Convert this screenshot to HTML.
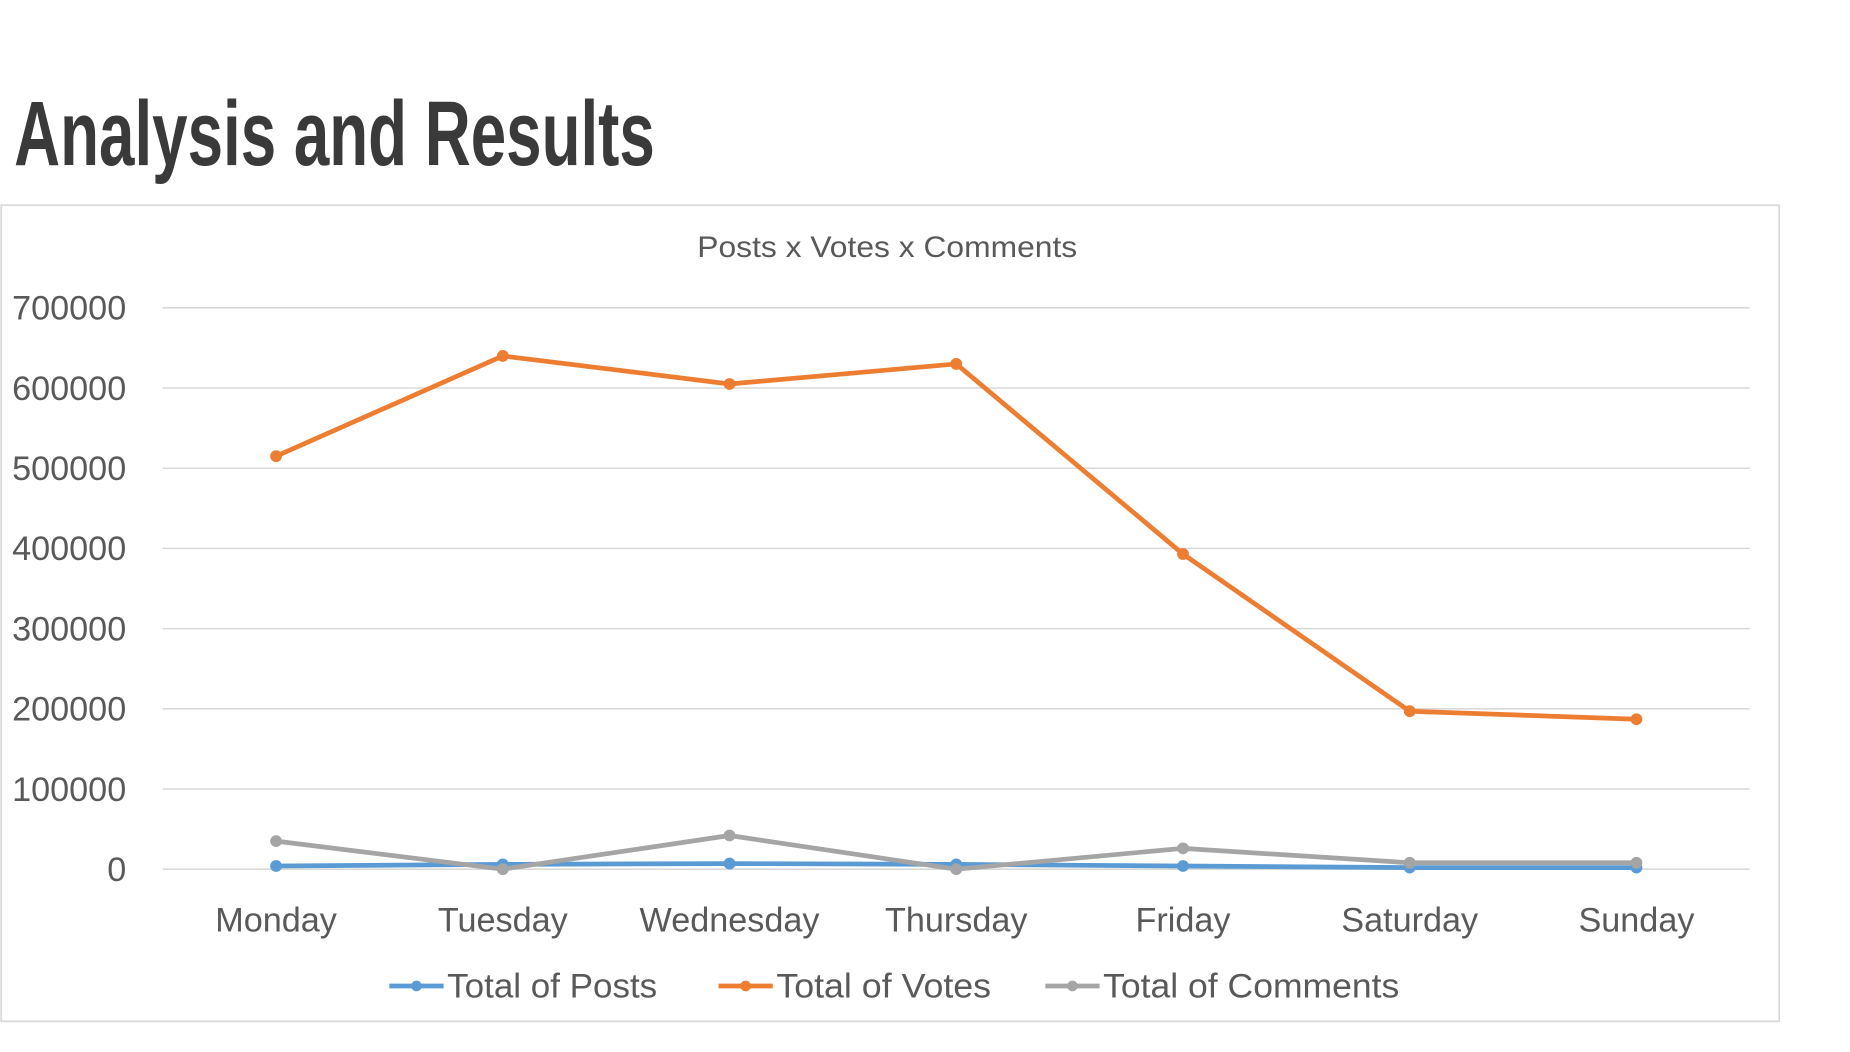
<!DOCTYPE html>
<html><head><meta charset="utf-8"><style>html,body{margin:0;padding:0;background:#fff;}svg{display:block;}</style></head>
<body>
<svg width="1850" height="1052" viewBox="0 0 1568 892" preserveAspectRatio="none" xmlns="http://www.w3.org/2000/svg" font-family="Liberation Sans, sans-serif">
<text x="12" y="140" font-size="78" font-weight="bold" fill="#3a3a3a" textLength="543" lengthAdjust="spacingAndGlyphs">Analysis and Results</text>
<rect x="1" y="174" width="1507" height="692" fill="#fff" stroke="#d9d9d9" stroke-width="1.5"/>
<text x="752" y="218" font-size="25" fill="#595959" text-anchor="middle" textLength="322" lengthAdjust="spacingAndGlyphs">Posts x Votes x Comments</text>
<g id="grid"></g><g id="series"></g><g id="labels"></g>
<g font-size="29" fill="#595959">
 <g><line x1="330" y1="836" x2="376" y2="836" stroke="#5b9bd5" stroke-width="4"/><circle cx="353" cy="836" r="4.5" fill="#5b9bd5"/><text x="379" y="846" textLength="178" lengthAdjust="spacingAndGlyphs">Total of Posts</text></g>
 <g><line x1="609" y1="836" x2="655" y2="836" stroke="#ed7d31" stroke-width="4"/><circle cx="632" cy="836" r="4.5" fill="#ed7d31"/><text x="658" y="846" textLength="182" lengthAdjust="spacingAndGlyphs">Total of Votes</text></g>
 <g><line x1="886" y1="836" x2="932" y2="836" stroke="#a5a5a5" stroke-width="4"/><circle cx="909" cy="836" r="4.5" fill="#a5a5a5"/><text x="935" y="846" textLength="251" lengthAdjust="spacingAndGlyphs">Total of Comments</text></g>
</g>
</svg>
<script>
const categories=["Monday","Tuesday","Wednesday","Thursday","Friday","Saturday","Sunday"];
const posts=[4000,6000,7000,6000,4000,2000,2000];
const votes=[515000,640000,605000,630000,393000,197000,187000];
const comments=[35000,0,42000,0,26000,8000,8000];
const yTicks=[0,100000,200000,300000,400000,500000,600000,700000];
const NS="http://www.w3.org/2000/svg";
const x=i=>234+i*(1387-234)/(categories.length-1);
const y=v=>737-v*(737-261)/700000;
function mk(t,a,p){const e=document.createElementNS(NS,t);for(const k in a)e.setAttribute(k,a[k]);p.appendChild(e);return e;}
const grid=document.getElementById('grid'),lab=document.getElementById('labels'),ser=document.getElementById('series');
yTicks.forEach(v=>{
 const l=mk('line',{x1:138,x2:1483,y1:y(v),y2:y(v),stroke:'#d9d9d9','stroke-width':1.3},grid);
 
 
 const t=mk('text',{x:107,y:y(v)+10,'font-size':29,fill:'#595959','text-anchor':'end'},lab);
 t.textContent=v;
 
 
});
categories.forEach((c,i)=>{
 const t=mk('text',{x:x(i),y:790,'font-size':29,fill:'#595959','text-anchor':'middle'},lab);
 t.textContent=c;
 
 
});
[[posts,'#5b9bd5','posts'],[comments,'#a5a5a5','comments'],[votes,'#ed7d31','votes']].forEach(([d,col,n])=>{
 const p=mk('polyline',{points:d.map((v,i)=>x(i)+','+y(v)).join(' '),fill:'none',stroke:col,'stroke-width':4,'stroke-linejoin':'round'},ser);
 
 
 d.forEach((v,i)=>{
  const c=mk('circle',{cx:x(i),cy:y(v),r:5,fill:col},ser);
  
  
 });
});
</script>
</body></html>
